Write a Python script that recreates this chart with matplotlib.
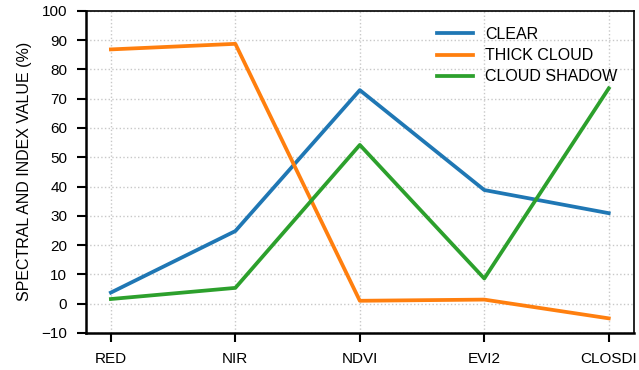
import numpy as np
import matplotlib.pyplot as plt

plt.rcParams["font.family"] = ["Liberation Sans", "DejaVu Sans"]

bands = ["RED", "NIR", "NDVI", "EVI2", "CLOSDI"]
clear = [3.8, 24.8, 72.9, 38.8, 30.9]
thick_cloud = [86.8, 88.7, 1.0, 1.4, -5.0]
cloud_shadow = [1.6, 5.4, 54.2, 8.6, 73.5]

x = np.arange(len(bands))

fig = plt.figure(figsize=(6.39, 3.70), dpi=100)
ax = fig.add_axes([0.1346, 0.1, 0.857, 0.871])

ax.plot(x, clear, color="#1f77b4", lw=2.7, label="CLEAR")
ax.plot(x, thick_cloud, color="#ff7f0e", lw=2.7, label="THICK CLOUD")
ax.plot(x, cloud_shadow, color="#2ca02c", lw=2.7, label="CLOUD SHADOW")

ax.set_xlim(-0.2, 4.2)
ax.set_ylim(-10, 100)
ax.set_yticks(np.arange(-10, 101, 10))
ax.set_xticks(x)
ax.set_xticklabels(bands)
ax.set_ylabel("SPECTRAL AND INDEX VALUE (%)", fontsize=11.5, labelpad=7)

ax.grid(True, linestyle=":", color="#c8c8c8", lw=1)
ax.set_axisbelow(True)

for side in ["left", "bottom"]:
    ax.spines[side].set_linewidth(1.8)
for side in ["top", "right"]:
    ax.spines[side].set_linewidth(1.2)
ax.tick_params(axis="both", labelsize=11, width=1.5, length=6.5, pad=7)

ax.legend(loc="upper right", frameon=False, fontsize=11.5, handlelength=2.2,
          borderaxespad=0.6, labelspacing=0.4)

fig.savefig("out.png", dpi=100)
